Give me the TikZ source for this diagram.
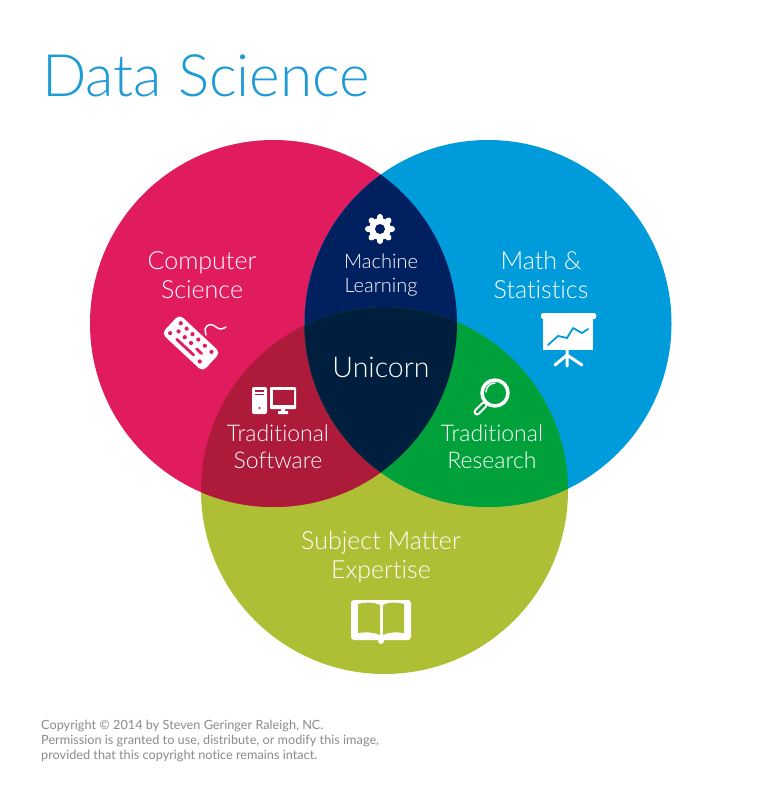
\documentclass[tikz,border=0pt]{standalone}
\usepackage{fontspec}
\setmainfont{Lato Light}[Ligatures=NoCommon]
\newfontfamily\notefont{Lato}[Ligatures=NoCommon]
\definecolor{csred}{HTML}{E01B5E}
\definecolor{msblue}{HTML}{009BDB}
\definecolor{smgreen}{HTML}{AEBF36}
\definecolor{mlnavy}{HTML}{00205F}
\definecolor{tsred}{HTML}{AE1A3A}
\definecolor{trgreen}{HTML}{00A13A}
\definecolor{uninavy}{HTML}{001E3E}
\definecolor{titleblue}{HTML}{1E9AD6}
\definecolor{notegray}{HTML}{8A8A8A}
\tikzset{
	biglabel/.style={text=white,align=center,inner sep=0pt,font=\fontsize{25}{29}\selectfont},
	smalllabel/.style={text=white,align=center,inner sep=0pt,font=\fontsize{20}{24}\selectfont},
	midlabel/.style={text=white,align=center,inner sep=0pt,font=\fontsize{23}{27}\selectfont},
	icon/.style={fill=white,draw=none}
}
\newcommand{\cscircle}{(273.5,323.5) circle (183.5)}
\newcommand{\mscircle}{(488,323.5) circle (183.5)}
\newcommand{\smcircle}{(384.5,490.5) circle (183.5)}
\begin{document}
\begin{tikzpicture}[
	x=1pt,y=-1pt,
	line cap=round, line join=round
	]
	\useasboundingbox (0,0) rectangle (778,800);
	
	% the circles
	\fill[smgreen] \smcircle;
	\fill[csred] \cscircle;
	\fill[msblue] \mscircle;
	\begin{scope}
		\clip \cscircle;
		\fill[tsred] \smcircle;
		\fill[mlnavy] \mscircle;
		\clip \mscircle;
		\fill[uninavy] \smcircle;
	\end{scope}
	\begin{scope}
		\clip \mscircle;
		\clip \smcircle;
		\fill[trgreen] (0,0) rectangle (778,800);
		\clip \cscircle;
		\fill[uninavy] (0,0) rectangle (778,800);
	\end{scope}
	
	% texts
	\node[anchor=base west,inner sep=0pt,text=titleblue,font=\fontsize{58.5}{59}\selectfont] (title) at (42,96) {Data Science};
	\node[biglabel] (cs) at (202,275) {Computer\\Science};
	\node[biglabel] (ms) at (541,275) {Math \&\\Statistics};
	\node[biglabel] (sm) at (381,557) {Subject Matter\\Expertise};
	\node[smalllabel] (ml) at (381,275.5) {Machine\\Learning};
	\node[biglabel,font=\fontsize{28.5}{29}\selectfont] (uni) at (381,367.5) {Unicorn};
	\node[midlabel] (ts) at (278,447) {Traditional\\Software};
	\node[midlabel] (tr) at (492,447) {Traditional\\Research};
	\node[anchor=north west,inner sep=0pt,align=left,text=notegray,font=\notefont\fontsize{12.7}{15}\selectfont] (note) at (41,719.5) {Copyright © 2014 by Steven Geringer Raleigh, NC.\\Permission is granted to use, distribute, or modify this image,\\provided that this copyright notice remains intact.};
	
	% keyboard
	\begin{scope}[shift={(191,343)},rotate=-43]
		\fill[icon,rounded corners=5] (-28,-13) rectangle (28,13);
		\foreach \kx in {-21,-13,-5,3,12,21} \fill[csred] (\kx,-7.5) circle (2.1);
		\foreach \kx in {-17,-8.5,0} \fill[csred] (\kx,0) circle (2.1);
		\draw[csred,line width=2.8] (8,0.5) -- (15,0.5);
		\fill[csred] (-22,7) circle (2.1);
		\draw[csred,line width=2.8] (-13,7) -- (10,7);
		\fill[csred] (19,7.5) circle (2.1);
	\end{scope}
	\draw[white,line width=1.5] (206,335) -- (205,329) .. controls (207,324) and (212,323) .. (216,327) .. controls (219,330) and (223,329) .. (226,327);
	
	% gear
	\foreach \ga in {0,45,...,315}
		\draw[white,line width=6,line cap=round] (380,229) -- ++(\ga:12);
	\fill[icon] (380,229) circle (11);
	\fill[mlnavy] (380,229) circle (5);
	
	% computer
	\fill[icon,rounded corners=2] (252,387) rectangle (267,414);
	\draw[tsred,line width=1.2,line cap=butt] (255,391) -- (264,391) (255,394.5) -- (264,394.5);
	\fill[tsred] (259.5,408) circle (1.2);
	\fill[icon,rounded corners=1] (270,387) rectangle (296,409);
	\fill[tsred] (272.5,389.5) rectangle (293.5,404.5);
	\fill[icon] (281,409) rectangle (285,411) (278,411) rectangle (288,414);
	
	% presentation board
	\fill[icon,rounded corners=1.5] (541,313) rectangle (596,319);
	\fill[icon] (543,319) rectangle (593,350);
	\draw[msblue,line width=1.8] (548,345) -- (558,336) -- (567,338) -- (573,328) -- (582,333) -- (588,329);
	\draw[white,line width=3] (567,350) -- (567,366) (555,365) -- (567,355) -- (582,365);
	
	% magnifier
	\draw[white,line width=3.5] (495,393) circle (13);
	\draw[white,line width=1.5] (486,392) arc (180:270:9);
	\draw[white,line width=7] (484,405) -- (477,412);
	\draw[trgreen,line width=2.5] (484,405) -- (477,412);
	
	% book
	\fill[icon,rounded corners=3] (351,600) rectangle (411,640);
	\fill[icon] (381,641) circle (3);
	\fill[smgreen] (358,604) .. controls (366,602) and (374,602) .. (380,605) -- (380,635) .. controls (374,632) and (366,632) .. (358,633) -- cycle;
	\fill[smgreen] (404,604) .. controls (396,602) and (388,602) .. (383,605) -- (383,635) .. controls (388,632) and (396,632) .. (404,633) -- cycle;
\end{tikzpicture}
\end{document}
